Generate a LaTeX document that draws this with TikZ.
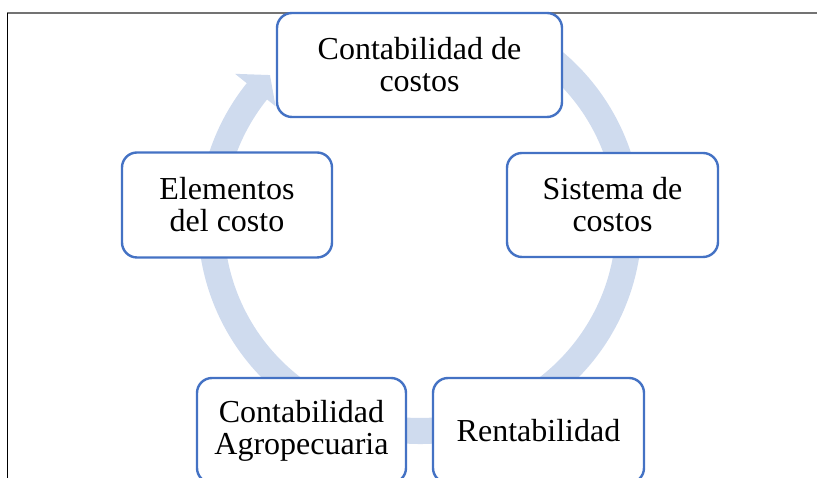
\documentclass[tikz,border=0pt]{standalone}
\usepackage{fontspec}
\setmainfont{Liberation Serif}
\definecolor{boxblue}{HTML}{4472C4}
\definecolor{bandblue}{HTML}{CFDBEE}
\begin{document}
\begin{tikzpicture}[x=1pt,y=1pt,
  cyclebox/.style={draw=boxblue, line width=2.4pt, fill=white, rounded corners=15pt,
    align=center, inner sep=0pt, font=\fontsize{32}{32}\selectfont},
  band/.style={fill=bandblue}]
\clip (0,0) rectangle (817,478);
% frame
\coordinate (ftl) at (7,465);
\coordinate (ftr) at (817,465);
\coordinate (fbl) at (7,0);
% circular arrow band
\begin{scope}
\clip (7,0) rectangle (817,465);
\begin{scope}[shift={(420,256)}]
\fill[band] (80:222pt) arc[start angle=80, end angle=-218.7, radius=222pt]
  -- (141.3:237pt) -- (135.6:210pt) -- (141.3:185pt) -- (141.3:196pt)
  arc[start angle=-218.7, end angle=80, radius=196pt] -- cycle;
\end{scope}
\end{scope}
\draw[line width=1.4pt, black!55] (ftl) -- (ftr);
\draw[line width=1pt, black] (fbl) -- (ftl);
% boxes
\node[cyclebox, minimum width=285pt, minimum height=104pt] (cc) at (419.5,413) {Contabilidad de\\costos};
\node[cyclebox, minimum width=211pt, minimum height=104pt] (sc) at (612.5,273) {Sistema de\\costos};
\node[cyclebox, minimum width=210pt, minimum height=105pt] (ec) at (227,273) {Elementos\\del costo};
\node[cyclebox, minimum width=209pt, minimum height=105pt] (ca) at (301.5,47.5) {Contabilidad\\Agropecuaria};
\node[cyclebox, minimum width=211pt, minimum height=105pt] (re) at (538.5,47.5) {Rentabilidad};
\end{tikzpicture}
\end{document}
